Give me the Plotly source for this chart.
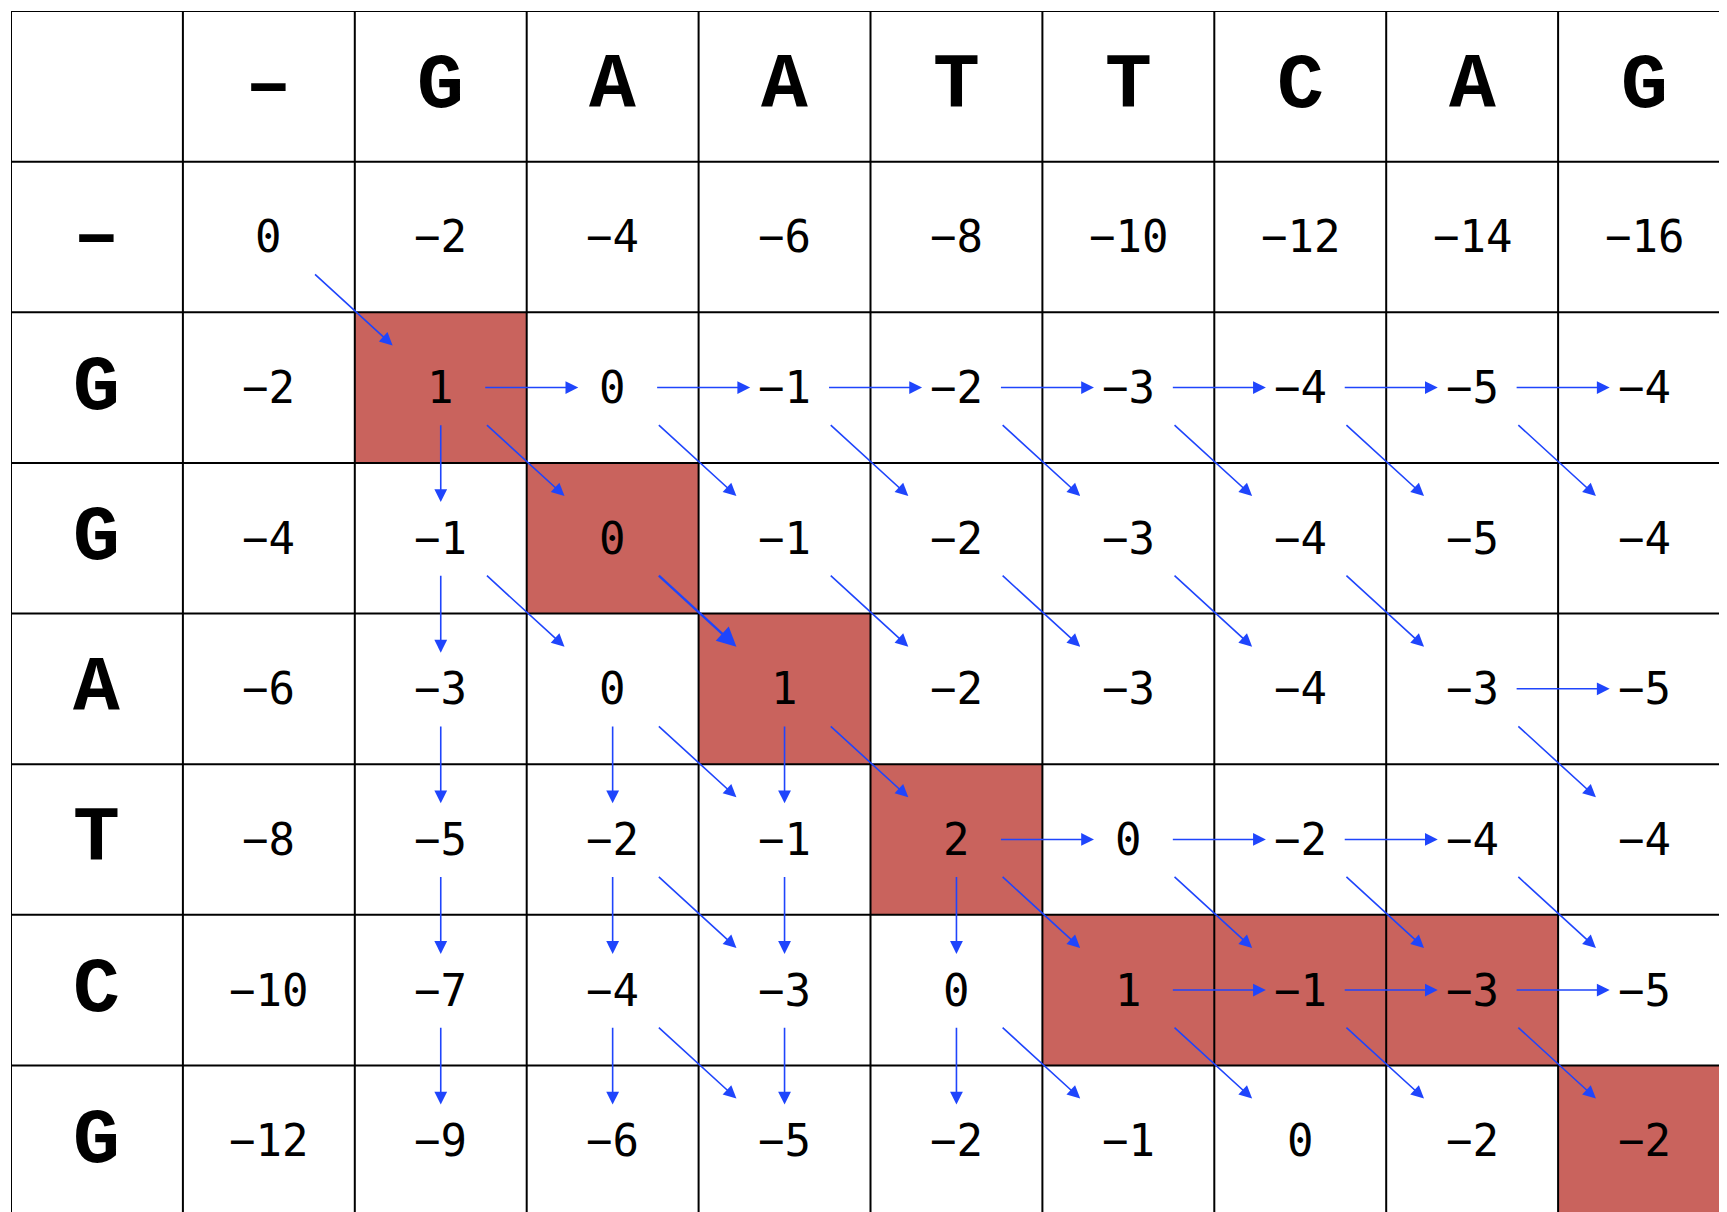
import plotly.graph_objects as go

top_seq = ["–", "G", "A", "A", "T", "T", "C", "A", "G"]
side_seq = ["–", "G", "G", "A", "T", "C", "G"]
scores = [
    [0, -2, -4, -6, -8, -10, -12, -14, -16],
    [-2, 1, 0, -1, -2, -3, -4, -5, -4],
    [-4, -1, 0, -1, -2, -3, -4, -5, -4],
    [-6, -3, 0, 1, -2, -3, -4, -3, -5],
    [-8, -5, -2, -1, 2, 0, -2, -4, -4],
    [-10, -7, -4, -3, 0, 1, -1, -3, -5],
    [-12, -9, -6, -5, -2, -1, 0, -2, -2],
]
# traceback pointers into each cell: d=diagonal, u=from above, l=from left
moves = [
    [""] * 9,
    ["", "d", "l", "l", "l", "l", "l", "l", "l"],
    ["", "u", "d", "d", "d", "d", "d", "d", "d"],
    ["", "u", "d", "d", "d", "d", "d", "d", "l"],
    ["", "u", "u", "du", "d", "l", "l", "l", "d"],
    ["", "u", "u", "du", "u", "d", "dl", "dl", "dl"],
    ["", "u", "u", "du", "u", "d", "d", "d", "d"],
]
path = [(1, 1), (2, 2), (3, 3), (4, 4), (5, 5), (5, 6), (5, 7), (6, 8)]

red = "#C9635D"
blue = "#1F45FC"
fig = go.Figure()
shapes = []
for (r, c) in path:
    shapes.append(dict(type="rect", x0=c + 1, x1=c + 2, y0=r + 1, y1=r + 2,
                       fillcolor=red, line=dict(width=0), layer="below"))
for k in range(11):
    shapes.append(dict(type="line", x0=k, x1=k, y0=0, y1=8, line=dict(color="black", width=2)))
for k in range(9):
    shapes.append(dict(type="line", x0=0, x1=10, y0=k, y1=k, line=dict(color="black", width=2)))

ann = []
for j, ch in enumerate(top_seq):
    ann.append(dict(x=j + 1.5, y=0.5, text=ch, showarrow=False,
                    font=dict(family="Liberation Mono", size=78, color="black", weight="bold")))
for i, ch in enumerate(side_seq):
    ann.append(dict(x=0.5, y=i + 1.5, text=ch, showarrow=False,
                    font=dict(family="Liberation Mono", size=78, color="black", weight="bold")))
for i, row in enumerate(scores):
    for j, v in enumerate(row):
        txt = str(v).replace("-", "−")
        ann.append(dict(x=j + 1.5, y=i + 1.5, text=txt, showarrow=False,
                        font=dict(family="DejaVu Sans Mono", size=44, color="black")))

for i, row in enumerate(moves):
    for j, m in enumerate(row):
        cx, cy = j + 1.5, i + 1.5
        for t in m:
            if t == "d":
                tail, head = (cx - 1 + 0.26, cy - 1 + 0.24), (cx - 0.28, cy - 0.28)
            elif t == "u":
                tail, head = (cx, cy - 1 + 0.24), (cx, cy - 0.24)
            else:
                tail, head = (cx - 1 + 0.25, cy), (cx - 0.2, cy)
            w = 2.4 if (i, j) == (3, 3) else 1.6
            ann.append(dict(x=head[0], y=head[1], ax=tail[0], ay=tail[1],
                            xref="x", yref="y", axref="x", ayref="y",
                            showarrow=True, arrowhead=2, arrowsize=1.6,
                            arrowwidth=w, arrowcolor=blue, text="", standoff=0))

fig.update_layout(
    width=1727, height=1212,
    margin=dict(l=3, r=5, t=3, b=4),
    plot_bgcolor="white", paper_bgcolor="white",
    xaxis=dict(range=[0, 10], visible=False, fixedrange=True),
    yaxis=dict(range=[8, 0], visible=False, fixedrange=True),
    shapes=shapes, annotations=ann, showlegend=False,
)
fig.write_html("out.html")
